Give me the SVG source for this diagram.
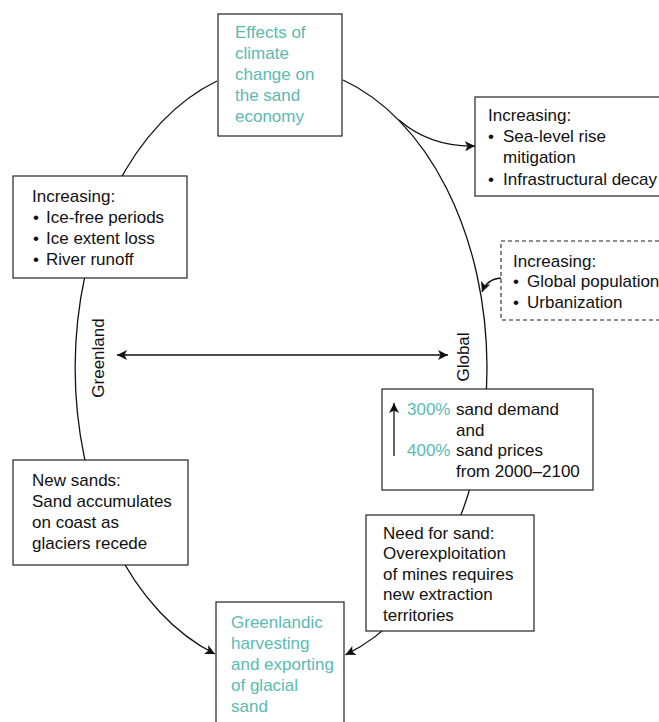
<svg xmlns="http://www.w3.org/2000/svg" width="659" height="722" viewBox="0 0 659 722">
<style>
text{font-family:"Liberation Sans",Arial,sans-serif;font-size:17px;fill:#111}
.t{fill:#5bbab1;font-size:17px}
.box{fill:#fff;stroke:#222;stroke-width:1.2}
.dash{fill:#fff;stroke:#222;stroke-width:1.1;stroke-dasharray:4 3}
.ln{fill:none;stroke:#111;stroke-width:1.3}
</style>
<defs>
<marker id="ah" viewBox="0 0 10 10" refX="10" refY="5" markerWidth="10" markerHeight="10" markerUnits="userSpaceOnUse" orient="auto-start-reverse">
<path d="M0,0 L10,5 L0,10 L2.5,5 Z" fill="#111"/>
</marker>
</defs>
<g id="connectors">
<path class="ln" d="M217,81 A206,302 0 0 0 215,654" marker-end="url(#ah)"/>
<path class="ln" d="M343,80 A206,302 0 0 1 345.5,654.8" marker-end="url(#ah)"/>
<path class="ln" d="M399,120 Q430,147 475,146" marker-end="url(#ah)"/>
<path class="ln" d="M501,278 Q487,279 482,292" marker-end="url(#ah)"/>
<path class="ln" d="M117,355 L448,355" marker-start="url(#ah)" marker-end="url(#ah)"/>
</g>
<g id="top">
<rect class="box" x="218" y="14" width="124" height="122"/>
<text class="t" x="235" y="38">Effects of</text>
<text class="t" x="235" y="59">climate</text>
<text class="t" x="235" y="80">change on</text>
<text class="t" x="235" y="101">the sand</text>
<text class="t" x="235" y="122">economy</text>
</g>
<g id="sealevel">
<rect class="box" x="475" y="97" width="200" height="99"/>
<text x="488" y="121">Increasing:</text>
<text x="488" y="142">•</text><text x="503" y="142">Sea-level rise</text>
<text x="503" y="163">mitigation</text>
<text x="488" y="185">•</text><text x="503" y="185">Infrastructural decay</text>
</g>
<g id="global-pop">
<rect class="dash" x="501" y="241" width="180" height="79"/>
<text x="513" y="267">Increasing:</text>
<text x="513" y="287">•</text><text x="527" y="287">Global population</text>
<text x="513" y="308">•</text><text x="527" y="308">Urbanization</text>
</g>
<g id="greenland-box">
<rect class="box" x="13" y="176" width="174" height="102"/>
<text x="32" y="202">Increasing:</text>
<text x="33" y="223">•</text><text x="46" y="223">Ice-free periods</text>
<text x="33" y="244">•</text><text x="46" y="244">Ice extent loss</text>
<text x="33" y="265">•</text><text x="46" y="265">River runoff</text>
</g>
<g id="labels">
<text transform="translate(104,358) rotate(-90)" text-anchor="middle">Greenland</text>
<text transform="translate(469,357) rotate(-90)" text-anchor="middle">Global</text>
</g>
<g id="demand">
<rect class="box" x="382" y="389" width="211" height="101"/>
<path class="ln" d="M394,456 L394,403" marker-end="url(#ah)"/>
<text class="t" x="407" y="415">300%</text><text x="456" y="415">sand demand</text>
<text x="456" y="436">and</text>
<text class="t" x="407" y="456">400%</text><text x="456" y="456">sand prices</text>
<text x="456" y="477">from 2000–2100</text>
</g>
<g id="newsands">
<rect class="box" x="13" y="460" width="175" height="105"/>
<text x="32" y="486">New sands:</text>
<text x="32" y="507">Sand accumulates</text>
<text x="32" y="528">on coast as</text>
<text x="32" y="549">glaciers recede</text>
</g>
<g id="needsand">
<rect class="box" x="366" y="515" width="168" height="116"/>
<text x="383" y="539">Need for sand:</text>
<text x="383" y="559">Overexploitation</text>
<text x="383" y="580">of mines requires</text>
<text x="383" y="600">new extraction</text>
<text x="383" y="621">territories</text>
</g>
<g id="bottom">
<rect class="box" x="216" y="602" width="128" height="130"/>
<text class="t" x="231" y="628">Greenlandic</text>
<text class="t" x="231" y="649">harvesting</text>
<text class="t" x="231" y="670">and exporting</text>
<text class="t" x="231" y="691">of glacial</text>
<text class="t" x="231" y="712">sand</text>
</g>
</svg>
